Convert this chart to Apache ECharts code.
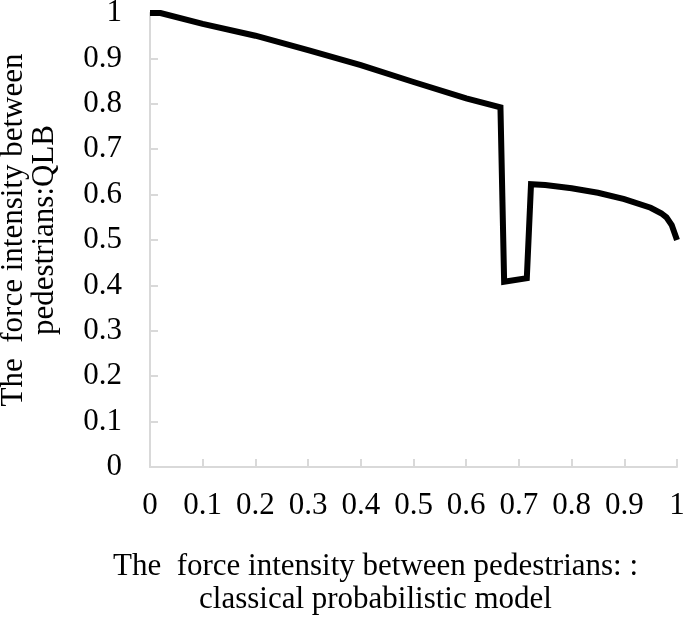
<!DOCTYPE html>
<html>
<head>
<meta charset="utf-8">
<script src="https://cdn.jsdelivr.net/npm/echarts@6/dist/echarts.min.js"></script>
<style>
  html, body { margin: 0; padding: 0; background: #fff; }
  #chart { width: 685px; height: 620px; }
</style>
</head>
<body>
<div id="chart"></div>
<script>
// classical probabilistic model (x) vs QLB (y)
const classicalValues = [0, 0.02, 0.1, 0.2, 0.3, 0.4, 0.5, 0.6, 0.665, 0.672, 0.715, 0.723, 0.75, 0.8, 0.85, 0.9, 0.95, 0.97, 0.98, 0.99, 1.0];
const qlbValues = [1, 1, 0.976, 0.95, 0.918, 0.885, 0.848, 0.812, 0.792, 0.408, 0.416, 0.623, 0.621, 0.614, 0.604, 0.59, 0.571, 0.559, 0.55, 0.533, 0.5];

const xAxisTitle = "The  force intensity between pedestrians: :\nclassical probabilistic model";
const yAxisTitle = "The  force intensity between\npedestrians:QLB";

const axisGrey = "#d9d9d9";
const font = "Liberation Serif";

const chart = echarts.init(document.getElementById("chart"));
const seriesData = classicalValues.map((x, i) => [x, qlbValues[i]]);

chart.setOption({
  animation: false,
  backgroundColor: "#fff",
  grid: {
    left: 150,
    right: 8,
    top: 13,
    bottom: 153,
    containLabel: false,
    outerBoundsMode: "none",
  },
  xAxis: {
    type: "value",
    min: 0,
    max: 1,
    interval: 0.1,
    splitLine: { show: false },
    axisLine: { lineStyle: { color: axisGrey, width: 2 } },
    axisTick: { inside: true, length: 8, lineStyle: { color: axisGrey, width: 2 } },
    axisLabel: { color: "#000", fontFamily: font, fontSize: 31, margin: 23 },
    name: xAxisTitle,
    nameLocation: "middle",
    nameGap: 83,
    nameTextStyle: {
      color: "#000",
      fontFamily: font,
      fontSize: 31,
      lineHeight: 33,
      padding: [0, 76, 0, 0],
    },
  },
  yAxis: {
    type: "value",
    min: 0,
    max: 1,
    interval: 0.1,
    splitLine: { show: false },
    axisLine: { show: true, lineStyle: { color: axisGrey, width: 2 } },
    axisTick: { show: true, inside: true, length: 8, lineStyle: { color: axisGrey, width: 2 } },
    axisLabel: { color: "#000", fontFamily: font, fontSize: 31, margin: 28 },
    name: yAxisTitle,
    nameLocation: "middle",
    nameGap: 90,
    nameTextStyle: {
      color: "#000",
      fontFamily: font,
      fontSize: 31,
      lineHeight: 31,
      padding: [0, 0, 0, 20],
    },
  },
  series: [
    {
      type: "line",
      data: seriesData,
      showSymbol: false,
      lineStyle: { color: "#000", width: 6, join: "miter" },
    },
  ],
});
</script>
</body>
</html>
